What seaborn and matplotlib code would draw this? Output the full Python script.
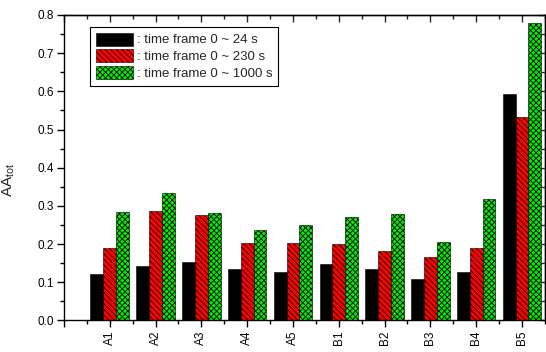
import numpy as np
import pandas as pd
import matplotlib
matplotlib.use('Agg')
import matplotlib.pyplot as plt
import seaborn as sns
from matplotlib.ticker import MultipleLocator, FixedLocator, NullFormatter

# data
samples = ['A1', 'A2', 'A3', 'A4', 'A5', 'B1', 'B2', 'B3', 'B4', 'B5']
series = [': time frame 0 ~ 24 s', ': time frame 0 ~ 230 s', ': time frame 0 ~ 1000 s']
aa_24 = [0.123, 0.142, 0.154, 0.135, 0.128, 0.149, 0.135, 0.109, 0.128, 0.594]
aa_230 = [0.191, 0.288, 0.275, 0.202, 0.203, 0.200, 0.181, 0.166, 0.191, 0.533]
aa_1000 = [0.283, 0.334, 0.281, 0.237, 0.251, 0.270, 0.278, 0.206, 0.317, 0.780]

colors = ['black', '#ff0000', '#00ee00']
hatches = ['', '\\' * 6, 'x' * 6]

df = pd.DataFrame({
    'sample': samples * 3,
    'series': np.repeat(series, len(samples)),
    'AA': aa_24 + aa_230 + aa_1000,
})

sns.set_style('ticks')
plt.rcParams['font.family'] = ['Liberation Sans', 'DejaVu Sans']
plt.rcParams['hatch.linewidth'] = 0.6
plt.rcParams['axes.linewidth'] = 1.0

fig = plt.figure(figsize=(5.46, 3.52), dpi=100)
ax = fig.add_axes([0.117, 0.0895, 0.881, 0.868])

sns.barplot(data=df, x='sample', y='AA', hue='series', palette=colors,
            saturation=1, width=0.84, gap=0, edgecolor='black', linewidth=0.4,
            errorbar=None, legend=False, ax=ax)

for cont, h in zip(ax.containers, hatches):
    for bar in cont:
        bar.set_hatch(h)

# axes ranges and ticks
ax.set_xlim(-1, 9.5)
ax.set_ylim(0, 0.8)
ax.set_xticks(range(-1, 10), [''] + samples, rotation=90)
ax.xaxis.set_minor_locator(FixedLocator(np.arange(-0.5, 9.6, 1)))
ax.yaxis.set_major_locator(MultipleLocator(0.1))
ax.yaxis.set_minor_locator(MultipleLocator(0.05))
ax.tick_params(which='major', length=5, width=1, colors='black', labelsize=8.5, pad=2)
ax.tick_params(which='minor', length=3, width=1, colors='black')
ax.set_xlabel('')
ax.set_ylabel('AA$_{\\mathregular{tot}}$', fontsize=11)
ax.yaxis.set_label_coords(-0.098, 0.46)

for s in ax.spines.values():
    s.set_color('black')
    s.set_visible(True)

top = ax.secondary_xaxis('top')
top.xaxis.set_major_locator(FixedLocator(range(-1, 10)))
top.xaxis.set_minor_locator(FixedLocator(np.arange(-0.5, 9.6, 1)))
top.xaxis.set_major_formatter(NullFormatter())
top.tick_params(which='major', direction='in', length=5, width=1)
top.tick_params(which='minor', direction='in', length=3, width=1)

right = ax.secondary_yaxis('right')
right.yaxis.set_major_locator(MultipleLocator(0.1))
right.yaxis.set_minor_locator(MultipleLocator(0.05))
right.yaxis.set_major_formatter(NullFormatter())
right.tick_params(which='major', direction='in', length=5, width=1)
right.tick_params(which='minor', direction='in', length=3, width=1)

leg = ax.legend(ax.containers, series, loc='upper left',
                bbox_to_anchor=(0.055, 0.962), borderaxespad=0,
                fancybox=False, edgecolor='black', framealpha=1,
                fontsize=9.5, handlelength=2.8, handleheight=1.14,
                handletextpad=0.25, labelspacing=0.2, borderpad=0.45)
leg.get_frame().set_linewidth(0.8)

fig.savefig('out.png', dpi=100)
